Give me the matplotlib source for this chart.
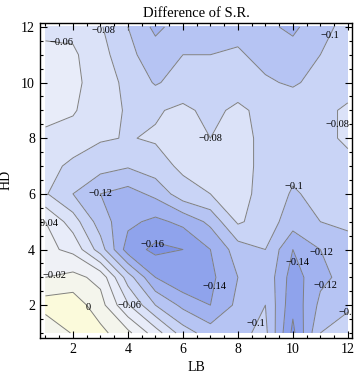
import numpy as np
import matplotlib
matplotlib.use('Agg')
import matplotlib.pyplot as plt
from matplotlib.ticker import MultipleLocator

plt.rcParams['font.family'] = ['Liberation Serif', 'DejaVu Serif']

# grid of the data: LB along x, HD along y
lb = np.arange(1, 13)
hd = np.arange(1, 13)

# difference of S.R., one row per HD value (HD = 1 ... 12), columns LB = 1 ... 12
hd01 = [-0.020, 0.002, 0.006, -0.015, -0.050, -0.090, -0.110, -0.105, -0.095, -0.165, -0.100, -0.088]
hd02 = [0.010, 0.012, -0.012, -0.058, -0.100, -0.125, -0.140, -0.115, -0.100, -0.155, -0.115, -0.104]
hd03 = [-0.020, -0.014, -0.026, -0.090, -0.140, -0.158, -0.145, -0.120, -0.105, -0.150, -0.125, -0.113]
hd04 = [-0.035, -0.045, -0.090, -0.150, -0.165, -0.160, -0.140, -0.110, -0.100, -0.140, -0.120, -0.110]
hd05 = [-0.040, -0.070, -0.110, -0.135, -0.145, -0.135, -0.115, -0.077, -0.090, -0.110, -0.100, -0.095]
hd06 = [-0.078, -0.100, -0.120, -0.128, -0.115, -0.088, -0.080, -0.072, -0.088, -0.102, -0.095, -0.090]
hd07 = [-0.072, -0.085, -0.092, -0.098, -0.088, -0.076, -0.074, -0.072, -0.086, -0.095, -0.090, -0.085]
hd08 = [-0.062, -0.068, -0.078, -0.081, -0.078, -0.072, -0.080, -0.072, -0.086, -0.090, -0.085, -0.077]
hd09 = [-0.057, -0.058, -0.072, -0.082, -0.082, -0.076, -0.085, -0.076, -0.086, -0.090, -0.085, -0.077]
hd10 = [-0.055, -0.055, -0.070, -0.085, -0.102, -0.092, -0.090, -0.090, -0.098, -0.102, -0.095, -0.088]
hd11 = [-0.055, -0.057, -0.072, -0.095, -0.110, -0.100, -0.100, -0.098, -0.105, -0.110, -0.100, -0.090]
hd12 = [-0.065, -0.065, -0.078, -0.100, -0.125, -0.110, -0.105, -0.105, -0.115, -0.125, -0.105, -0.095]

line_levels = [-0.16, -0.14, -0.12, -0.10, -0.08, -0.06, -0.04, -0.02, 0.0]
fill_levels = [-0.20] + line_levels + [0.04]
band_colors = ['#7d93e8', '#8fa3ec', '#a2b3f0', '#b6c4f3', '#c9d4f6',
               '#dbe2f8', '#e8ecf9', '#eff1f6', '#f4f5ec', '#fbfadb']

# where the contour labels sit (LB, HD)
label_spots = [(1.6, 11.45), (3.2, 11.9), (11.3, 11.7), (7.0, 8.0), (11.6, 8.5),
               (10.4, 6.6), (2.9, 6.2), (1.2, 5.0), (5.0, 4.05), (1.35, 3.0),
               (2.65, 2.0), (4.0, 1.9), (7.05, 2.7), (11.35, 4.0), (10.35, 3.6),
               (11.4, 2.55), (8.75, 1.3), (12.0, 2.05)]

Z = np.array([hd01, hd02, hd03, hd04, hd05, hd06, hd07, hd08, hd09, hd10, hd11, hd12])


def fmt(v):
    s = '%g' % round(v, 2)
    if s == '-0':
        s = '0'
    return s.replace('-', '\u2212')


fig = plt.figure(figsize=(3.6, 3.8), dpi=100)
ax = fig.add_axes([0.111, 0.1105, 0.8667, 0.8297])

ax.contourf(lb, hd, Z, levels=fill_levels, colors=band_colors)
cs = ax.contour(lb, hd, Z, levels=line_levels, colors='#808080', linewidths=0.7,
                linestyles='solid')

ax.set_xlim(0.8, 12.15)
ax.set_ylim(0.82, 12.15)

ax.xaxis.set_major_locator(MultipleLocator(2))
ax.xaxis.set_minor_locator(MultipleLocator(0.5))
ax.yaxis.set_major_locator(MultipleLocator(2))
ax.yaxis.set_minor_locator(MultipleLocator(0.5))
ax.tick_params(which='both', direction='in', top=True, right=True, labelsize=10, width=0.8)
ax.tick_params(which='major', length=5)
ax.tick_params(which='minor', length=2.5)
for sp in ax.spines.values():
    sp.set_linewidth(1.0)

labels = ax.clabel(cs, manual=label_spots, inline=False, fmt=fmt, fontsize=7.5, colors='k')
for t in labels:
    t.set_rotation(0)
    t.set_clip_on(True)

ax.set_title('Difference of S.R.', fontsize=10.5, pad=4)
ax.set_xlabel('LB', fontsize=10, labelpad=4)
ax.set_ylabel('HD', fontsize=10, labelpad=6)

fig.savefig('out.png', dpi=100)
